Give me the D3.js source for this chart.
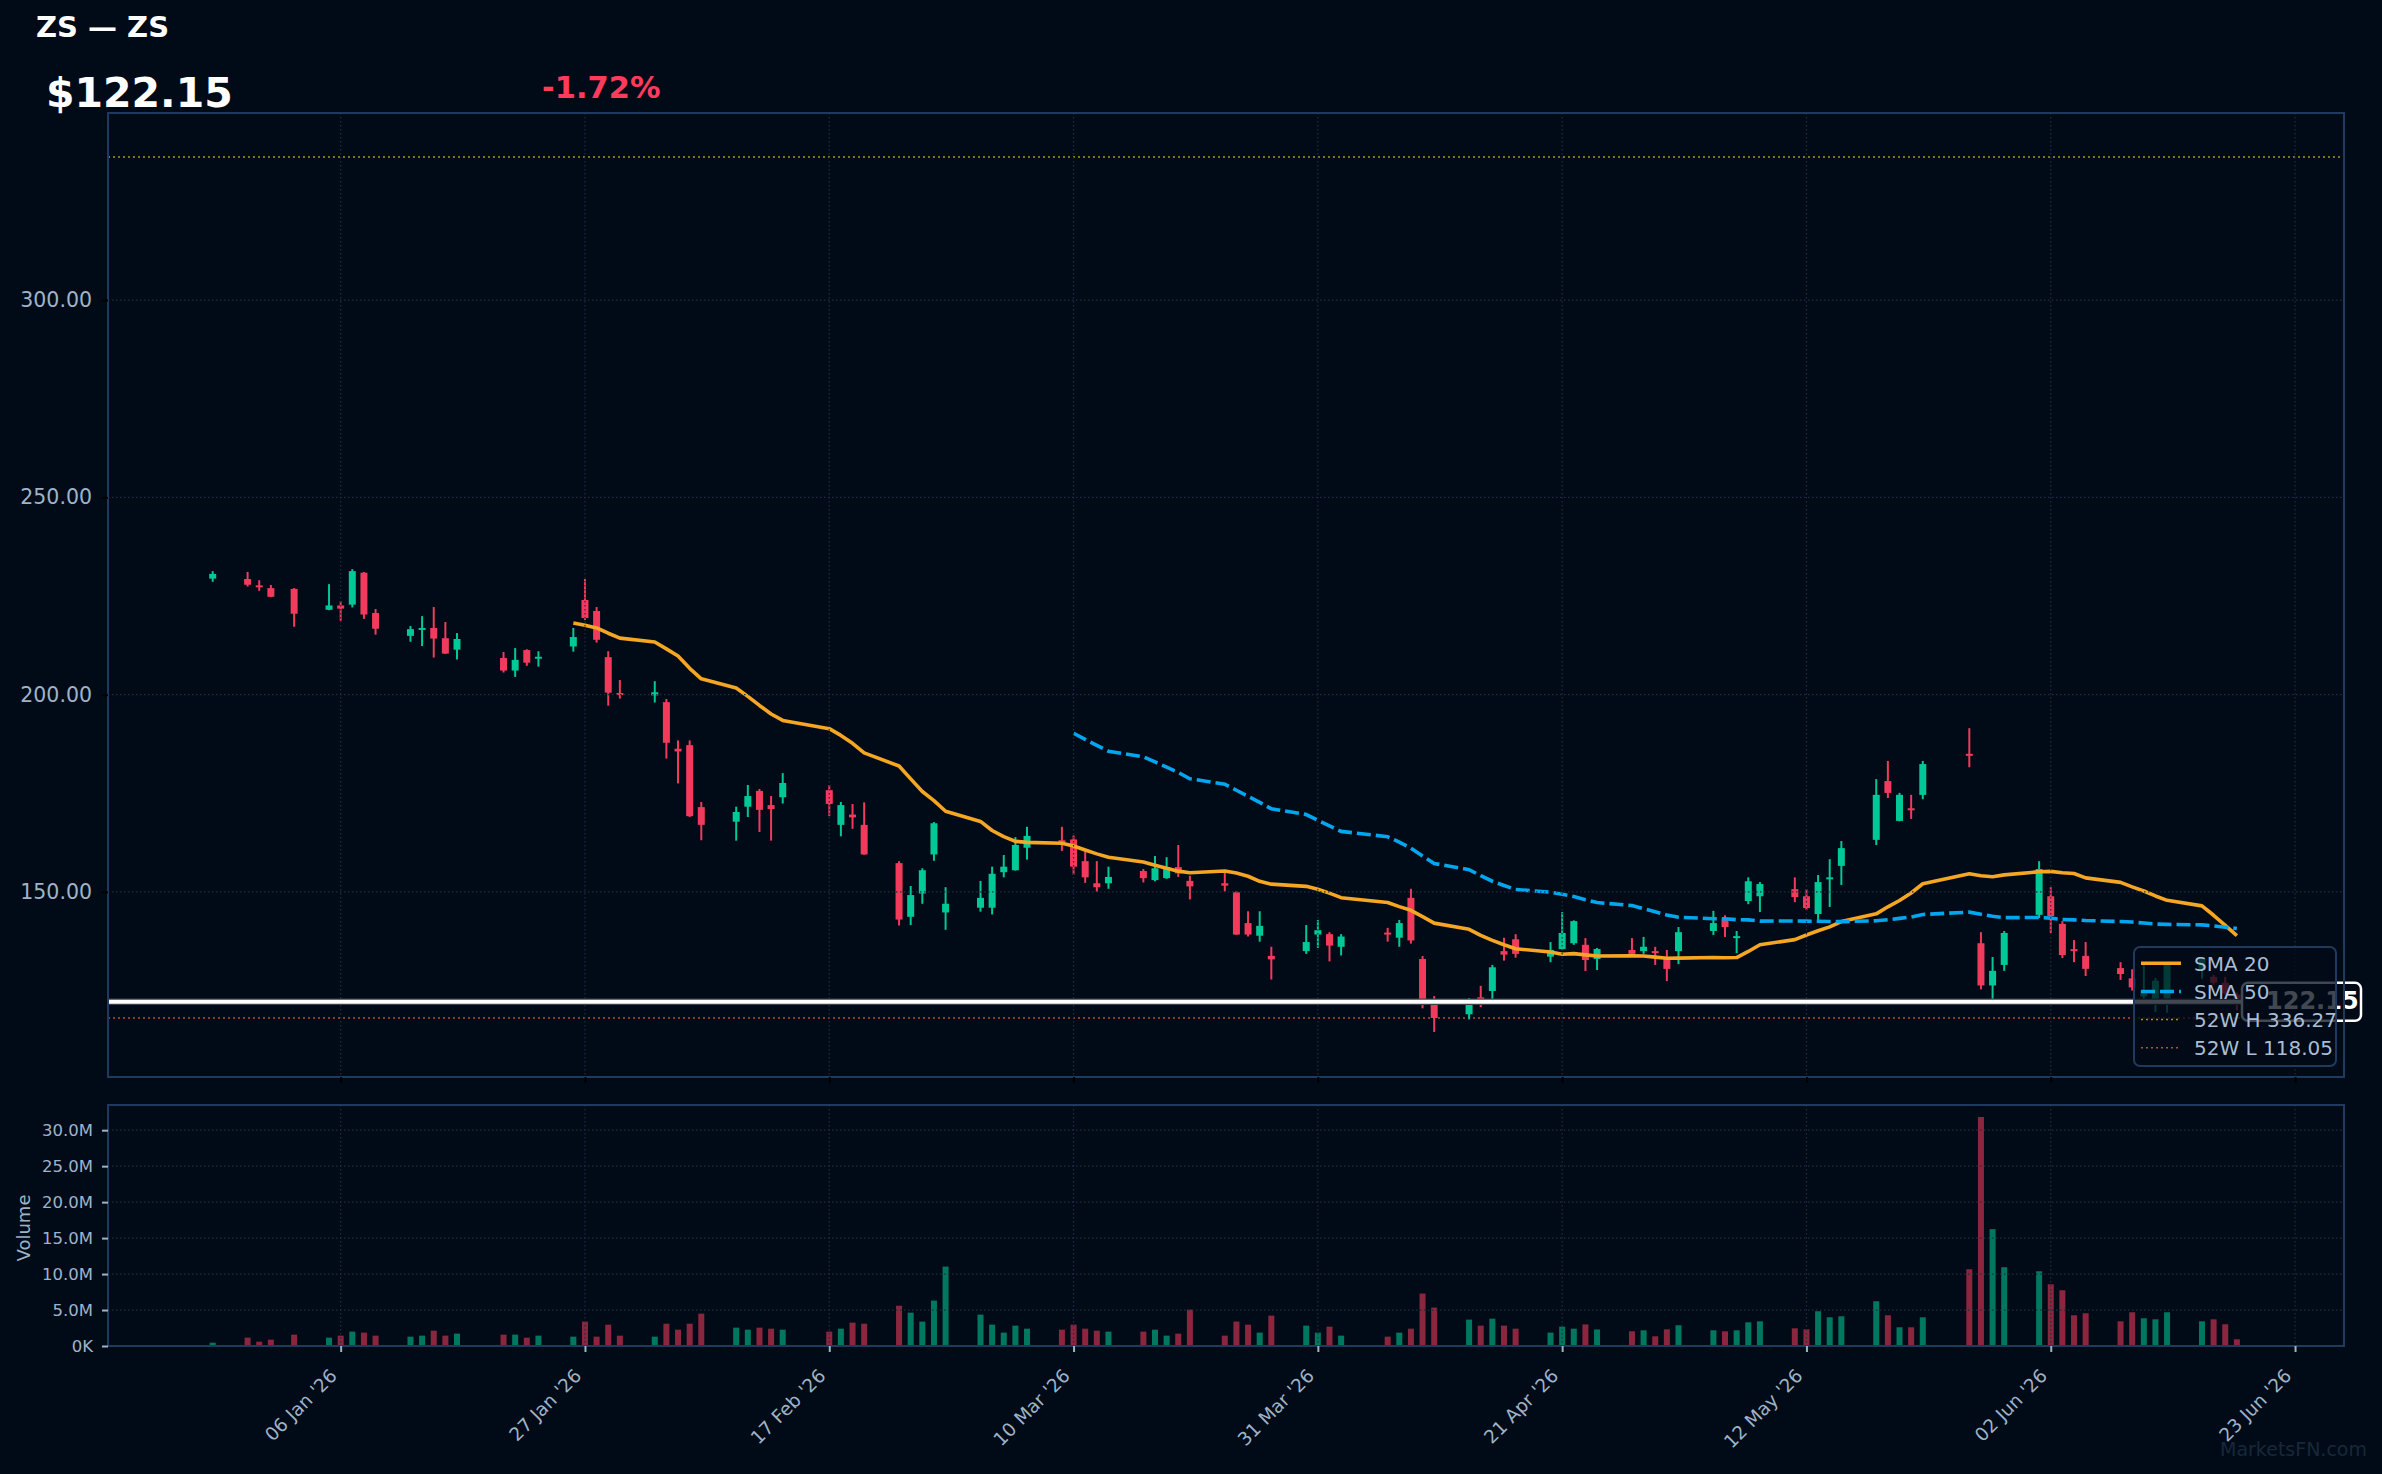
<!doctype html>
<html lang="en">
<head>
<meta charset="utf-8">
<title>ZS — ZS</title>
<script src="https://d3js.org/d3.v7.min.js"></script>
<style>
  html, body { margin: 0; padding: 0; background: #010b17; }
  svg { display: block; }
  text { font-family: "DejaVu Sans", sans-serif; }
</style>
</head>
<body>
<script>
// ---- data ----
const dates = [
  "2025-12-26","2025-12-29","2025-12-30","2025-12-31","2026-01-02","2026-01-05","2026-01-06","2026-01-07","2026-01-08","2026-01-09",
  "2026-01-12","2026-01-13","2026-01-14","2026-01-15","2026-01-16","2026-01-20","2026-01-21","2026-01-22","2026-01-23","2026-01-26",
  "2026-01-27","2026-01-28","2026-01-29","2026-01-30","2026-02-02","2026-02-03","2026-02-04","2026-02-05","2026-02-06","2026-02-09",
  "2026-02-10","2026-02-11","2026-02-12","2026-02-13","2026-02-17","2026-02-18","2026-02-19","2026-02-20","2026-02-23","2026-02-24",
  "2026-02-25","2026-02-26","2026-02-27","2026-03-02","2026-03-03","2026-03-04","2026-03-05","2026-03-06","2026-03-09","2026-03-10",
  "2026-03-11","2026-03-12","2026-03-13","2026-03-16","2026-03-17","2026-03-18","2026-03-19","2026-03-20","2026-03-23","2026-03-24",
  "2026-03-25","2026-03-26","2026-03-27","2026-03-30","2026-03-31","2026-04-01","2026-04-02","2026-04-06","2026-04-07","2026-04-08",
  "2026-04-09","2026-04-10","2026-04-13","2026-04-14","2026-04-15","2026-04-16","2026-04-17","2026-04-20","2026-04-21","2026-04-22",
  "2026-04-23","2026-04-24","2026-04-27","2026-04-28","2026-04-29","2026-04-30","2026-05-01","2026-05-04","2026-05-05","2026-05-06",
  "2026-05-07","2026-05-08","2026-05-11","2026-05-12","2026-05-13","2026-05-14","2026-05-15","2026-05-18","2026-05-19","2026-05-20",
  "2026-05-21","2026-05-22","2026-05-26","2026-05-27","2026-05-28","2026-05-29","2026-06-01","2026-06-02","2026-06-03","2026-06-04",
  "2026-06-05","2026-06-08","2026-06-09","2026-06-10","2026-06-11","2026-06-12","2026-06-15","2026-06-16","2026-06-17","2026-06-18"
];
const open = [
  229.4,229.3,227.7,227.0,226.8,221.5,222.6,222.8,230.9,220.7,
  214.9,216.5,216.9,214.3,211.4,209.3,206.1,211.3,209.2,212.2,
  224.0,221.2,209.5,200.4,199.8,198.1,186.3,187.2,171.5,167.8,
  171.6,175.6,172.0,174.0,175.8,167.0,169.6,167.0,157.3,143.7,
  149.6,159.5,144.8,146.0,146.0,155.0,155.5,161.2,163.1,163.3,
  157.8,152.2,152.2,155.3,153.0,153.5,156.3,152.8,152.2,149.9,
  142.1,138.9,133.8,135.0,139.2,139.3,136.1,139.7,138.4,148.5,
  133.0,122.6,119.0,123.3,124.9,135.0,138.0,133.6,135.5,137.0,
  136.6,133.0,135.3,135.0,135.0,133.25,135.0,140.1,143.1,138.5,
  147.7,148.9,150.7,148.9,144.4,153.3,156.6,163.2,178.1,168.0,
  171.2,174.6,185.0,137.0,126.3,131.5,144.2,148.9,141.9,135.5,
  133.8,130.7,128.1,123.5,122.2,123.0,130.2,128.5,127.0,124.0
];
const high = [
  231.3,231.1,229.0,227.8,227.0,228.0,223.7,231.8,231.1,221.7,
  217.4,219.9,222.2,218.4,215.6,210.8,211.8,211.5,211.0,216.9,
  229.3,222.2,211.0,203.7,203.4,198.9,188.4,188.4,172.8,171.6,
  177.1,176.1,174.3,180.1,177.1,172.8,172.3,172.7,157.8,151.5,
  156.0,167.7,151.2,152.8,156.4,159.35,163.9,166.5,166.5,164.3,
  160.4,157.8,156.4,155.8,159.1,158.8,161.9,154.1,155.0,150.2,
  145.1,145.1,136.1,141.6,142.9,139.8,139.3,140.9,142.9,150.8,
  133.75,123.6,123.1,126.2,131.5,138.4,139.3,137.3,144.9,142.8,
  138.3,135.8,138.3,138.6,136.1,135.3,141.1,145.2,144.1,140.1,
  153.7,152.5,153.7,150.7,154.3,158.3,162.9,178.6,183.2,175.1,
  174.6,183.2,191.5,139.8,133.5,140.1,157.8,151.2,142.6,137.8,
  137.3,132.2,130.4,131.5,128.2,132.0,133.5,129.0,128.5,124.5
];
const low = [
  228.6,227.4,226.3,224.7,217.2,221.4,218.7,222.1,219.2,215.2,
  213.4,212.3,209.4,210.3,208.9,205.6,204.5,207.3,207.1,210.9,
  218.9,213.2,197.2,199.0,198.0,183.8,177.5,169.0,163.1,163.0,
  169.0,165.2,163.0,172.4,169.2,164.1,166.0,159.4,141.5,141.6,
  147.0,157.9,140.4,145.0,144.3,153.7,155.4,158.2,160.4,154.4,
  152.3,150.0,150.8,152.4,152.7,153.3,153.8,148.1,150.1,139.1,
  138.7,137.4,127.8,134.3,135.8,132.4,133.9,137.4,136.1,136.9,
  120.5,114.5,117.7,120.8,122.6,132.6,133.35,132.2,135.4,136.6,
  129.95,130.2,134.2,134.3,131.5,127.4,131.7,139.1,138.6,134.5,
  146.9,144.9,147.4,145.4,142.9,146.2,151.75,161.9,173.8,167.9,
  168.5,173.5,181.6,125.3,122.8,130.0,143.4,139.6,133.25,132.2,
  128.7,127.7,125.0,122.6,119.6,119.4,128.0,126.5,124.0,120.0
];
const close = [
  230.6,227.85,227.5,224.8,220.5,222.6,221.8,231.3,220.3,216.7,
  216.6,216.9,214.2,210.4,214.1,206.1,208.8,208.1,209.6,214.6,
  219.4,213.9,200.5,200.0,200.6,187.8,185.6,169.2,167.0,170.25,
  174.3,170.8,171.0,177.6,172.3,172.0,168.9,159.5,143.0,149.2,
  155.5,167.4,147.0,148.5,154.6,156.4,161.9,164.2,162.6,156.4,
  153.7,151.2,153.8,153.5,156.0,156.3,154.7,151.4,151.6,139.2,
  139.2,141.4,132.9,137.3,140.3,136.4,138.7,139.5,142.1,137.7,
  121.8,118.05,122.6,122.6,130.9,134.1,134.3,135.3,139.6,142.6,
  132.75,135.55,134.3,136.1,134.6,130.5,139.8,142.1,141.1,138.8,
  152.7,152.0,148.7,145.9,152.5,153.7,161.1,174.6,175.1,174.6,
  170.8,182.4,184.6,126.3,130.0,139.6,155.8,143.9,134.0,135.1,
  130.5,129.2,125.8,125.0,127.5,131.5,133.0,127.0,124.29,122.15
];
// volume in millions
const volume = [
  0.46,1.16,0.60,0.88,1.58,1.16,1.44,2.00,1.86,1.44,
  1.30,1.44,2.13,1.44,1.72,1.58,1.58,1.16,1.44,1.30,
  3.39,1.30,2.97,1.44,1.30,3.10,2.27,3.10,4.50,2.55,
  2.27,2.55,2.41,2.27,2.00,2.41,3.25,3.10,5.60,4.64,
  3.39,6.31,11.04,4.36,2.97,1.86,2.83,2.41,2.27,2.97,
  2.41,2.13,2.00,2.00,2.27,1.44,1.72,5.06,1.44,3.39,
  2.97,1.86,4.22,2.83,1.86,2.69,1.44,1.30,1.86,2.41,
  7.29,5.34,3.67,2.83,3.80,2.83,2.41,1.86,2.69,2.41,
  3.00,2.30,2.04,2.18,1.35,2.32,2.88,2.18,2.04,2.18,
  3.29,3.43,2.46,2.32,4.83,3.99,4.13,6.22,4.27,2.60,
  2.60,3.99,10.67,31.83,16.24,10.95,10.39,8.58,7.75,4.27,
  4.55,3.43,4.69,3.85,3.71,4.69,3.43,3.71,3.02,0.93
];
const priceTicks = [150, 200, 250, 300];
const volumeTicks = [0, 5, 10, 15, 20, 25, 30];
const dateTicks = ["2026-01-06","2026-01-27","2026-02-17","2026-03-10","2026-03-31","2026-04-21","2026-05-12","2026-06-02","2026-06-23"];
const lastPrice = 122.15;
const changePct = -1.72;
const high52 = 336.27;
const low52 = 118.05;

// ---- setup ----
const W = 2382, H = 1474;
const bg = "#010b17";
const upColor = "#00c896", downColor = "#f23a5c";
const spineColor = "#1f3a5c", gridColor = "#1e2e40", tickText = "#9fb3c8";
const parse = d3.utcParse("%Y-%m-%d");
const days = dates.map(parse);
const tickDays = dateTicks.map(parse);

const main = { left: 108, right: 2344, top: 113, bottom: 1077 };
const vol = { left: 108, right: 2344, top: 1105, bottom: 1346 };

const x = d3.scaleUtc()
  .domain([new Date(Date.UTC(2025, 11, 17)), new Date(Date.UTC(2026, 5, 27, 5))])
  .range([main.left, main.right]);
const y = d3.scaleLinear().domain([103.1, 347.4]).range([main.bottom, main.top]);
const yv = d3.scaleLinear().domain([0, 33.5]).range([vol.bottom, vol.top]);

function sma(arr, n) {
  return arr.map((v, i) => i < n - 1 ? null : d3.mean(arr.slice(i - n + 1, i + 1)));
}
const sma20 = sma(close, 20);
const sma50 = sma(close, 50);

const svg = d3.select("body").append("svg")
  .attr("width", W).attr("height", H);
svg.append("rect").attr("width", W).attr("height", H).attr("fill", bg);

// clip path for the price panel
const defs = svg.append("defs");
defs.append("clipPath").attr("id", "clipMain").append("rect")
  .attr("x", main.left).attr("y", main.top)
  .attr("width", main.right - main.left).attr("height", main.bottom - main.top);

const gMain = svg.append("g").attr("clip-path", "url(#clipMain)");

// 52 week lines
gMain.append("line")
  .attr("x1", main.left).attr("x2", main.right)
  .attr("y1", y(high52)).attr("y2", y(high52))
  .attr("stroke", "#a89a10").attr("stroke-width", 1.5).attr("stroke-dasharray", "2,3");
gMain.append("line")
  .attr("x1", main.left).attr("x2", main.right)
  .attr("y1", y(low52)).attr("y2", y(low52))
  .attr("stroke", "#b8502e").attr("stroke-width", 1.5).attr("stroke-dasharray", "2,3");

// candles
const idx = d3.range(dates.length);
const candle = gMain.selectAll("g.candle").data(idx).enter().append("g");
candle.append("line")
  .attr("x1", i => x(days[i])).attr("x2", i => x(days[i]))
  .attr("y1", i => y(high[i])).attr("y2", i => y(low[i]))
  .attr("stroke", i => close[i] >= open[i] ? upColor : downColor)
  .attr("stroke-width", 2);
candle.append("rect")
  .attr("x", i => x(days[i]) - 3.5)
  .attr("width", 7)
  .attr("y", i => y(Math.max(open[i], close[i])))
  .attr("height", i => Math.max(2, Math.abs(y(open[i]) - y(close[i]))))
  .attr("fill", i => close[i] >= open[i] ? upColor : downColor);

// volume bars
svg.append("g").selectAll("rect").data(idx).enter().append("rect")
  .attr("x", i => x(days[i]) - 3)
  .attr("width", 6)
  .attr("y", i => yv(volume[i]))
  .attr("height", i => yv(0) - yv(volume[i]))
  .attr("fill", i => close[i] >= open[i] ? upColor : downColor)
  .attr("fill-opacity", 0.58);

// grid
function grid(panel, yScale, yVals) {
  const g = svg.append("g").attr("stroke", gridColor).attr("stroke-width", 1.2)
    .attr("stroke-dasharray", "1.5,2.5");
  g.selectAll("line.h").data(yVals).enter().append("line")
    .attr("x1", panel.left).attr("x2", panel.right)
    .attr("y1", d => yScale(d)).attr("y2", d => yScale(d));
  g.selectAll("line.v").data(tickDays).enter().append("line")
    .attr("x1", d => x(d)).attr("x2", d => x(d))
    .attr("y1", panel.top).attr("y2", panel.bottom);
}
grid(main, y, priceTicks);
grid(vol, yv, volumeTicks);

// moving averages
const line = d3.line()
  .defined(i => i.v != null)
  .x(i => x(i.d)).y(i => y(i.v));
gMain.append("path")
  .datum(idx.map(i => ({ d: days[i], v: sma20[i] })))
  .attr("d", line).attr("fill", "none")
  .attr("stroke", "#f5a623").attr("stroke-width", 3.6).attr("stroke-linejoin", "round");
gMain.append("path")
  .datum(idx.map(i => ({ d: days[i], v: sma50[i] })))
  .attr("d", line).attr("fill", "none")
  .attr("stroke", "#00a6ee").attr("stroke-width", 3.6).attr("stroke-dasharray", "14,5");

// current price line + label
const yp = y(lastPrice);
svg.append("line")
  .attr("x1", main.left).attr("x2", 2242).attr("y1", yp).attr("y2", yp)
  .attr("stroke", "#3a4048").attr("stroke-width", 6.5);
svg.append("line")
  .attr("x1", main.left).attr("x2", 2242).attr("y1", yp).attr("y2", yp)
  .attr("stroke", "#ffffff").attr("stroke-width", 4);
svg.append("rect")
  .attr("x", 2242).attr("y", yp - 19).attr("width", 119).attr("height", 38).attr("rx", 6)
  .attr("fill", bg).attr("stroke", "#ffffff").attr("stroke-width", 2.5);
svg.append("text")
  .attr("x", 2266).attr("y", yp + 7.5)
  .attr("fill", "#ffffff").attr("font-size", 24).attr("font-weight", "bold")
  .text(lastPrice.toFixed(2));

// spines
[main, vol].forEach(p => {
  svg.append("rect")
    .attr("x", p.left).attr("y", p.top)
    .attr("width", p.right - p.left).attr("height", p.bottom - p.top)
    .attr("fill", "none").attr("stroke", spineColor).attr("stroke-width", 2);
});

// axes
const yAxis = svg.append("g").attr("transform", `translate(${main.left},0)`)
  .call(d3.axisLeft(y).tickValues(priceTicks).tickFormat(d3.format(".2f")).tickSize(6).tickPadding(10));
yAxis.select(".domain").remove();
yAxis.selectAll("line").attr("stroke", "#000000").attr("stroke-width", 2);
yAxis.selectAll("text").attr("fill", tickText).attr("font-size", 20.5).attr("font-family", "DejaVu Sans");

const xMain = svg.append("g").attr("transform", `translate(0,${main.bottom})`)
  .call(d3.axisBottom(x).tickValues(tickDays).tickFormat("").tickSize(6));
xMain.select(".domain").remove();
xMain.selectAll("line").attr("stroke", "#000000").attr("stroke-width", 2);

const vAxis = svg.append("g").attr("transform", `translate(${vol.left},0)`)
  .call(d3.axisLeft(yv).tickValues(volumeTicks)
    .tickFormat(d => d === 0 ? "0K" : d.toFixed(1) + "M").tickSize(6).tickPadding(9));
vAxis.select(".domain").remove();
vAxis.selectAll("line").attr("stroke", tickText).attr("stroke-width", 2);
vAxis.selectAll("text").attr("fill", tickText).attr("font-size", 16.5).attr("font-family", "DejaVu Sans");

const fmt = d3.utcFormat("%d %b '%y");
const xAxis = svg.append("g").attr("transform", `translate(0,${vol.bottom})`)
  .call(d3.axisBottom(x).tickValues(tickDays).tickFormat(fmt).tickSize(6));
xAxis.select(".domain").remove();
xAxis.selectAll("line").attr("stroke", tickText).attr("stroke-width", 2);
xAxis.selectAll("text")
  .attr("fill", tickText).attr("font-size", 18.5).attr("font-family", "DejaVu Sans")
  .attr("x", 0).attr("y", 0).attr("dy", 0)
  .attr("text-anchor", "end")
  .attr("transform", "translate(-3,31) rotate(-45)");

svg.append("text")
  .attr("transform", "translate(30,1228) rotate(-90)")
  .attr("text-anchor", "middle").attr("fill", tickText).attr("font-size", 18)
  .text("Volume");

// legend (drawn over the price label, as in the reference)
const lg = svg.append("g");
lg.append("rect")
  .attr("x", 2134).attr("y", 947).attr("width", 202).attr("height", 119).attr("rx", 6)
  .attr("fill", bg).attr("fill-opacity", 0.75)
  .attr("stroke", spineColor).attr("stroke-width", 2);
const legendItems = [
  { label: "SMA 20", color: "#f5a623", width: 3.6, dash: null },
  { label: "SMA 50", color: "#00a6ee", width: 3.6, dash: "14,5" },
  { label: "52W H " + high52.toFixed(2), color: "#a89a10", width: 1.5, dash: "2,3" },
  { label: "52W L " + low52.toFixed(2), color: "#b8502e", width: 1.5, dash: "2,3" }
];
const rowY = d3.scaleLinear().domain([0, 3]).range([963.3, 1047.7]);
legendItems.forEach((it, i) => {
  lg.append("line")
    .attr("x1", 2141).attr("x2", 2181).attr("y1", rowY(i)).attr("y2", rowY(i))
    .attr("stroke", it.color).attr("stroke-width", it.width)
    .attr("stroke-dasharray", it.dash);
  lg.append("text")
    .attr("x", 2194).attr("y", rowY(i) + 7.3)
    .attr("fill", "#a9bdd4").attr("font-size", 20)
    .text(it.label);
});

// header texts
svg.append("text").attr("x", 36).attr("y", 37)
  .attr("fill", "#ffffff").attr("font-size", 29).attr("font-weight", "bold")
  .text("ZS — ZS");
svg.append("text").attr("x", 46).attr("y", 107)
  .attr("fill", "#ffffff").attr("font-size", 41).attr("font-weight", "bold")
  .text("$" + lastPrice.toFixed(2));
svg.append("text").attr("x", 542).attr("y", 98)
  .attr("fill", "#ff3b5c").attr("font-size", 30.5).attr("font-weight", "bold")
  .text(changePct.toFixed(2) + "%");

// watermark
svg.append("text").attr("x", 2367).attr("y", 1456)
  .attr("text-anchor", "end").attr("fill", "#17283a").attr("font-size", 19)
  .text("MarketsFN.com");
</script>
</body>
</html>
